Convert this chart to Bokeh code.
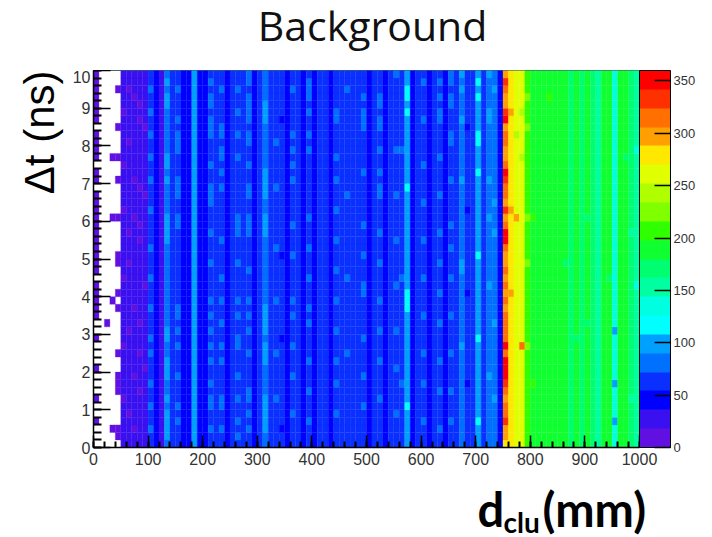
import numpy as np
from bokeh.core.properties import value
from bokeh.embed import file_html
from bokeh.layouts import column
from bokeh.resources import INLINE
from bokeh.plotting import figure
from bokeh.models import LinearColorMapper, ColorBar, Title, FixedTicker, Range1d, ColumnDataSource

# colour levels
palette = ["#6010e0", "#3a10f0", "#0000ff", "#0a30ff", "#0070ff", "#00a0ff", "#00ffff",
           "#00ffe0", "#00ffa0", "#00ff70", "#10ff30", "#30ff00", "#80ff00", "#b0ff00",
           "#e0ff00", "#ffe800", "#ffa000", "#ff7000", "#ff3000", "#ff0000"]
z_top = 360

# typical count per d_clu bin (10 mm bins)
column_level = [0, 0, 0, 0, 0, 30, 28, 28, 25, 28, 66, 45, 35, 85, 60, 70, 40, 45, 90, 50,
                50, 66, 60, 66, 50, 60, 66, 60, 66, 45, 60, 80, 55, 66, 60, 40, 66, 55, 50, 70,
                45, 55, 60, 45, 66, 60, 60, 60, 55, 66, 45, 60, 70, 42, 65, 66, 55, 95, 50, 60,
                66, 45, 60, 66, 50, 70, 60, 85, 60, 60, 95, 55, 80, 80, 50, 305, 275, 265, 255, 200,
                190, 185, 185, 185, 185, 180, 185, 175, 190, 165, 185, 175, 145, 190, 185, 140, 185, 180, 175, 150]

# the 750 mm bin, row by row from dt=0 up
bin75 = [285, 290, 300, 330, 310, 320, 305, 310, 340, 350, 350, 350, 315, 355, 320, 310, 320, 315, 305, 310,
         305, 320, 300, 310, 305, 300, 310, 350, 350, 310, 300, 340, 305, 315, 320, 325, 355, 310, 300, 305,
         310, 315, 305, 345, 330, 305, 300, 310, 325, 305]

# brighter cells seen in the blue part: bin -> rows
bright_rows = {10: [47, 44, 41, 38, 35, 31, 26, 22, 18, 14, 12, 8, 5, 2],
               13: [48, 46, 45, 38, 37, 35, 30, 29, 28, 27, 15, 14, 11, 10, 9, 6, 4, 3, 2, 1],
               15: [47, 43, 41, 40, 39, 35, 34, 33, 30, 29, 18, 17, 15, 13, 9, 5, 3],
               18: [48, 47, 33, 32, 31, 30, 12, 10, 5],
               21: [48, 46, 45, 43, 42, 41, 37, 34, 33, 32, 28, 24, 19, 17, 15, 13, 11, 8, 6, 5, 2],
               23: [47, 42, 41, 39, 38, 36, 34, 27, 22, 19, 16, 13, 11, 6, 5, 2],
               26: [47, 44, 41, 38, 30, 29, 28, 24, 19, 17, 14, 13, 9, 6, 3, 1],
               28: [49, 48, 46, 45, 44, 43, 41, 40, 37, 34, 33, 30, 29, 28, 23, 19, 17, 15, 12, 7, 6, 4, 2],
               31: [45, 44, 43, 36, 35, 34, 33, 30, 29, 28, 18, 17, 16, 15, 13, 12, 11, 6, 5, 4, 3, 2],
               33: [40, 34, 26, 19, 12, 6],
               36: [47, 41, 39, 37, 35, 29, 25, 19, 17, 13, 9, 4], 39: [48, 47, 46, 44, 41, 39, 30, 26, 22, 18, 16, 11, 7, 3],
               44: [44, 43, 38, 35, 31, 27, 23, 19, 15, 11, 8, 4],
               46: [47, 33, 22, 12], 49: [46, 44, 43, 42, 36, 29, 25, 21, 20, 14, 9, 5],
               52: [46, 45, 43, 42, 39, 36, 34, 33, 28, 24, 19, 15, 11, 6],
               55: [49, 39, 33, 27, 21, 15, 10, 4], 56: [39, 22, 8], 57: [47, 46, 44, 34, 20, 19, 18, 5],
               60: [48, 43, 37, 32, 27, 22, 17, 12, 8, 3], 63: [48, 46, 44, 43, 38, 33, 28, 24, 20, 16, 11, 7, 2],
               65: [49, 48, 46, 45, 41, 40, 35, 29, 26, 22, 17, 12, 7, 3],
               67: [49, 47, 43, 35, 24, 23, 13], 70: [48, 46, 41, 40, 36, 25, 14, 3],
               72: [49, 44, 43, 35, 30, 21, 9], 73: [47, 32, 28, 16, 6]}
bright_step = 18

# dimmer cells in the same part
dim_rows = {5: [44, 37, 31, 22, 13, 6], 6: [47, 40, 28, 24, 15, 4], 7: [46, 35, 30, 18, 9, 2],
            8: [45, 43, 34, 29, 27, 16, 12, 7], 9: [42, 33, 21, 10],
            19: [40, 26, 11], 24: [36, 20, 6], 34: [43, 25, 14, 2], 68: [42, 31, 20, 8], 74: [44, 38, 12, 5]}
dim_step = 14

# isolated low counts left of 50 mm: (bin, row)
edge_cells = [(4, 47), (4, 42), (4, 38), (3, 38), (4, 35), (4, 30), (3, 30), (4, 25), (4, 24), (4, 20),
              (3, 19), (4, 18), (2, 16), (4, 12), (4, 9), (4, 8), (4, 7), (4, 2), (3, 2), (4, 1)]
first_bin_rows = [49, 48, 47, 46, 45, 44, 43, 41, 40, 39, 38, 36, 35, 33, 32, 31, 30, 29, 28, 27,
                  26, 25, 24, 23, 21, 20, 19, 18, 17, 14, 10, 6, 3]

# warm and green cells that stand out: (bin, row, count)
warm_cells = [(78, 13, 310), (76, 31, 300), (76, 44, 295), (77, 30, 290), (76, 20, 290), (77, 41, 245),
              (78, 38, 235), (78, 44, 240), (79, 46, 225), (79, 42, 225), (79, 30, 222), (79, 24, 225),
              (79, 13, 220), (80, 30, 205), (80, 8, 205), (83, 46, 205), (86, 24, 170), (87, 42, 165),
              (88, 14, 170), (90, 30, 165), (90, 16, 170), (94, 22, 165), (95, 15, 100), (95, 8, 100),
              (95, 3, 100), (97, 38, 165), (98, 28, 160), (98, 6, 160), (99, 39, 130), (99, 21, 135)]

x_ticks = [0, 100, 200, 300, 400, 500, 600, 700, 800, 900, 1000]
y_ticks = list(range(0, 11))
z_ticks = [0, 50, 100, 150, 200, 250, 300, 350]

counts = np.tile(np.array(column_level, dtype=float), (50, 1))
counts[:, 75] = bin75
for b, rows in bright_rows.items():
    counts[rows, b] += bright_step
for b, rows in dim_rows.items():
    counts[rows, b] -= dim_step
for b, r in edge_cells:
    counts[r, b] = 15
for r in first_bin_rows:
    counts[r, 0] = 15
for b, r, c in warm_cells:
    counts[r, b] = c

row_idx, bin_idx = np.nonzero(counts)
src = ColumnDataSource(dict(left=bin_idx * 10.0, right=bin_idx * 10.0 + 10, bottom=row_idx * 0.2,
                            top=row_idx * 0.2 + 0.2, z=counts[row_idx, bin_idx]))

mapper = LinearColorMapper(palette=palette, low=0, high=z_top)

head = figure(frame_width=690, frame_height=70, output_backend="svg", toolbar_location=None,
              x_range=Range1d(0, 690), y_range=Range1d(0, 70), min_border=0,
              x_axis_type=None, y_axis_type=None, outline_line_color=None)
head.grid.visible = False
head.text(x=[279], y=[46], text=["Background"], text_font=value("Open Sans"), text_font_size="41px",
          text_align="center", text_baseline="alphabetic", text_color="#111111")

p = figure(frame_width=546, frame_height=377, output_backend="svg", toolbar_location=None,
           x_range=Range1d(0, 1000), y_range=Range1d(0, 10),
           min_border_left=93, min_border_top=0, min_border_bottom=10, min_border_right=0,
           background_fill_color="white", border_fill_color="white")
p.grid.visible = False
p.outline_line_color = "#3a6a6a"
p.quad(left="left", right="right", bottom="bottom", top="top", source=src,
       fill_color={"field": "z", "transform": mapper}, line_color={"field": "z", "transform": mapper},
       line_width=0.3)

for ax, major, minor, ticks in ((p.xaxis[0], 12, 6, x_ticks), (p.yaxis[0], 17, 8, y_ticks)):
    ax.ticker = FixedTicker(ticks=ticks, minor_ticks=[t * 0.2 for t in range(0, 51)] if ax is p.yaxis[0]
                            else [t * 20 for t in range(0, 51)])
    ax.major_tick_in = major
    ax.major_tick_out = 0
    ax.minor_tick_in = minor
    ax.minor_tick_out = 0
    ax.axis_line_color = "black"
    ax.axis_line_width = 1.5
    ax.major_tick_line_color = "black"
    ax.major_tick_line_width = 1.5
    ax.minor_tick_line_color = "black"
    ax.minor_tick_line_width = 2
    ax.major_label_text_font = "Liberation Sans"
    ax.major_label_text_font_size = "16px"
    ax.major_label_text_color = "#333333"
p.xaxis[0].major_label_standoff = 5
p.yaxis[0].major_label_standoff = 3
p.yaxis[0].major_label_orientation = "horizontal"

cb = ColorBar(color_mapper=mapper, width=31, height=377, padding=0, margin=3,
              ticker=FixedTicker(ticks=z_ticks), major_tick_in=16, major_tick_line_color="black",
              major_tick_line_width=1.5, minor_tick_line_color=None,
              bar_line_color="black", bar_line_width=1, border_line_color=None,
              major_label_text_font="Liberation Sans", major_label_text_font_size="13px",
              major_label_text_color="#333333", label_standoff=3, background_fill_color="white",
              location=(0, 0))
p.add_layout(cb, "right")

p.add_layout(Title(text="\u0394t (ns)", align="right", offset=0, text_font="Liberation Sans",
                   text_font_size="42px", text_font_style="normal", text_color="black", standoff=14), "left")

q = figure(frame_width=690, frame_height=71, output_backend="svg", toolbar_location=None,
           x_range=Range1d(0, 690), y_range=Range1d(0, 71), min_border=0,
           x_axis_type=None, y_axis_type=None, outline_line_color=None)
q.grid.visible = False
q.text(x=[384, 449], y=[30, 30], text=["d", "(mm)"], text_font=value("Lato"), text_font_style="bold",
       text_font_size="47px", text_baseline="alphabetic", text_color="black")
q.text(x=[410], y=[17], text=["clu"], text_font=value("Lato"), text_font_style="bold",
       text_font_size="28px", text_baseline="alphabetic", text_color="black")

open("out.html", "w").write(file_html(column(head, p, q, spacing=0), INLINE))
